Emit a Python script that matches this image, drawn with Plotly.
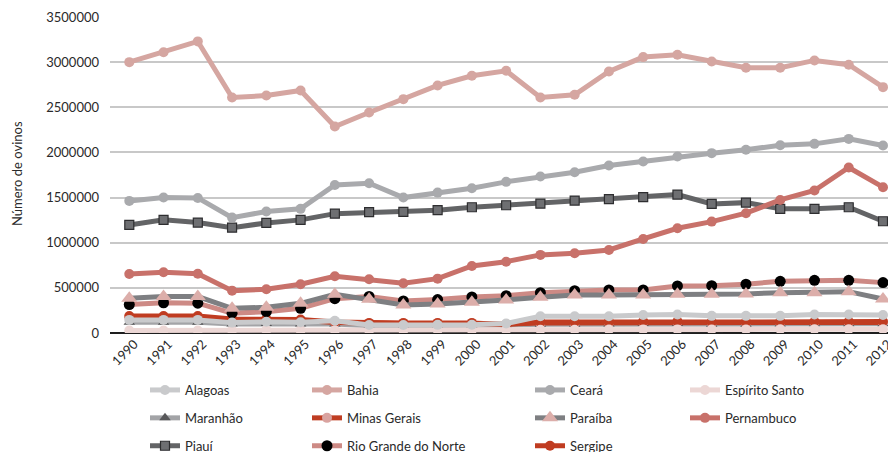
import plotly.graph_objects as go

years = [str(y) for y in range(1990, 2013)]

alagoas = [145000, 145000, 145000, 115000, 125000, 120000, 135000, 88000, 88000, 90000, 92000, 105000,
           185000, 185000, 185000, 200000, 205000, 190000, 190000, 190000, 205000, 205000, 200000]
bahia = [3000000, 3110000, 3230000, 2608000, 2630000, 2686000, 2287000, 2442000, 2590000, 2742000, 2849000, 2904000,
         2608000, 2638000, 2897000, 3056000, 3082000, 3008000, 2938000, 2938000, 3019000, 2971000, 2723000]
ceara = [1463000, 1500000, 1496000, 1278000, 1345000, 1375000, 1640000, 1659000, 1500000, 1555000, 1604000, 1674000,
         1733000, 1781000, 1855000, 1899000, 1955000, 1992000, 2029000, 2080000, 2095000, 2150000, 2077000]
espirito_santo = [28000, 28000, 28000, 30000, 32000, 30000, 30000, 30000, 30000, 32000, 32000, 34000,
                  36000, 36000, 38000, 40000, 40000, 40000, 40000, 42000, 42000, 42000, 42000]
maranhao = [120000, 120000, 120000, 100000, 105000, 100000, 100000, 80000, 80000, 80000, 82000, 88000,
            98000, 98000, 100000, 104000, 104000, 98000, 98000, 100000, 102000, 102000, 102000]
minas_gerais = [175000, 175000, 175000, 145000, 145000, 140000, 115000, 105000, 105000, 105000, 105000, 98000,
                112000, 112000, 114000, 120000, 120000, 112000, 112000, 114000, 117000, 117000, 117000]
paraiba = [385000, 403000, 403000, 274000, 285000, 329000, 429000, 374000, 310000, 321000, 340000, 366000,
           396000, 421000, 421000, 421000, 429000, 429000, 432000, 447000, 447000, 458000, 377000]
pernambuco = [654000, 673000, 657000, 469000, 484000, 540000, 628000, 595000, 551000, 602000, 743000, 790000,
              865000, 883000, 920000, 1042000, 1160000, 1234000, 1327000, 1474000, 1578000, 1833000, 1615000]
piaui = [1197000, 1253000, 1223000, 1167000, 1219000, 1253000, 1322000, 1338000, 1341000, 1360000, 1393000, 1415000,
         1433000, 1467000, 1482000, 1504000, 1533000, 1430000, 1444000, 1375000, 1375000, 1393000, 1238000]
rio_grande_norte = [315000, 335000, 330000, 220000, 236000, 274000, 380000, 405000, 355000, 370000, 400000, 413000,
                    447000, 469000, 477000, 477000, 521000, 524000, 540000, 573000, 584000, 584000, 558000]
sergipe = [188000, 188000, 188000, 155000, 155000, 150000, 122000, 112000, 112000, 112000, 112000, 95000,
           122000, 122000, 124000, 130000, 130000, 122000, 122000, 124000, 127000, 127000, 127000]

y_ticks = [0, 500000, 1000000, 1500000, 2000000, 2500000, 3000000, 3500000]

FONT = "Lato"
TXT = "#2a2a2a"

# name, values, line colour, marker symbol, marker colour, marker outline, marker size, legend column, rank
series = [
    ("Alagoas", alagoas, "#c9cacc", "circle", "#c9cacc", None, 10, "legend", 1),
    ("Bahia", bahia, "#d5a6a1", "circle", "#d5a6a1", None, 10, "legend2", 1),
    ("Ceará", ceara, "#a9aaad", "circle", "#a9aaad", None, 10, "legend3", 1),
    ("Espírito Santo", espirito_santo, "#ecd7d5", "circle", "#ecd7d5", None, 10, "legend4", 1),
    ("Maranhão", maranhao, "#a3a4a7", "triangle-up", "#58585a", None, 10, "legend", 2),
    ("Minas Gerais", minas_gerais, "#bf3d22", "circle", "#d9a3a0", None, 10, "legend2", 2),
    ("Paraíba", paraiba, "#7e7f82", "triangle-up", "#dcaeaa", None, 14, "legend3", 2),
    ("Pernambuco", pernambuco, "#c8716a", "circle", "#c8716a", None, 10, "legend4", 2),
    ("Piauí", piaui, "#636466", "square", "#6e6f72", "#2e2e30", 9, "legend", 3),
    ("Rio Grande do Norte", rio_grande_norte, "#cd8a85", "circle", "#000000", None, 11, "legend2", 3),
    ("Sergipe", sergipe, "#c03c21", "circle", "#c03c21", None, 10, "legend3", 3),
]

# Bottom-to-top stacking: the last name of this list is drawn on top
draw_order = ["Maranhão", "Minas Gerais", "Sergipe", "Rio Grande do Norte", "Piauí", "Pernambuco",
              "Paraíba", "Espírito Santo", "Ceará", "Bahia", "Alagoas"]
by_name = {s[0]: s for s in series}

fig = go.Figure()
for name in draw_order:
    nm, vals, lc, sym, mc, mline, msize, leg, rank = by_name[name]
    fig.add_trace(go.Scatter(
        x=years, y=vals, name=nm, mode="lines+markers",
        line=dict(color=lc, width=5),
        marker=dict(symbol=sym, color=mc, size=msize,
                    line=dict(color=mline if mline else mc, width=1.2 if mline else 0)),
        legend=leg, legendrank=rank, legendgroup=nm,
    ))

leg_common = dict(
    orientation="v", xref="container", yref="container", yanchor="top", xanchor="left",
    font=dict(family=FONT, size=13, color=TXT), bgcolor="rgba(0,0,0,0)",
    tracegroupgap=8, itemwidth=30,
)
leg_y = 1 - 375 / 452
fig.update_layout(
    width=888, height=452,
    margin=dict(l=110, r=0, t=17, b=119, autoexpand=False),
    paper_bgcolor="white", plot_bgcolor="white",
    font=dict(family=FONT, size=13, color=TXT),
    showlegend=True,
    legend=dict(x=145 / 888, y=leg_y, **leg_common),
    legend2=dict(x=307 / 888, y=leg_y, **leg_common),
    legend3=dict(x=530 / 888, y=leg_y, **leg_common),
    legend4=dict(x=685 / 888, y=leg_y, **leg_common),
    xaxis=dict(
        type="category", categoryorder="array", categoryarray=years,
        range=[-0.563, 22.146], tickangle=-45, showgrid=False, showline=False,
        ticks="", tickfont=dict(family=FONT, size=13, color=TXT), fixedrange=True,
        automargin=False, ticklabelshift=5,
    ),
    yaxis=dict(
        range=[0, 3500000], tickvals=y_ticks, ticktext=[str(v) for v in y_ticks],
        showgrid=True, gridcolor="#c8c8c8", gridwidth=1.5,
        zeroline=True, zerolinecolor="#1e1e1e", zerolinewidth=2,
        showline=False, ticks="", ticklabelstandoff=10, automargin=False,
        tickfont=dict(family=FONT, size=13, color=TXT),
    ),
    annotations=[dict(
        text="Número de ovinos", textangle=-90, showarrow=False,
        xref="paper", yref="paper", x=(17 - 110) / 778, y=(333 - 174) / 316,
        xanchor="center", yanchor="middle",
        font=dict(family=FONT, size=13, color=TXT),
    )],
)

fig.write_html("out.html")
